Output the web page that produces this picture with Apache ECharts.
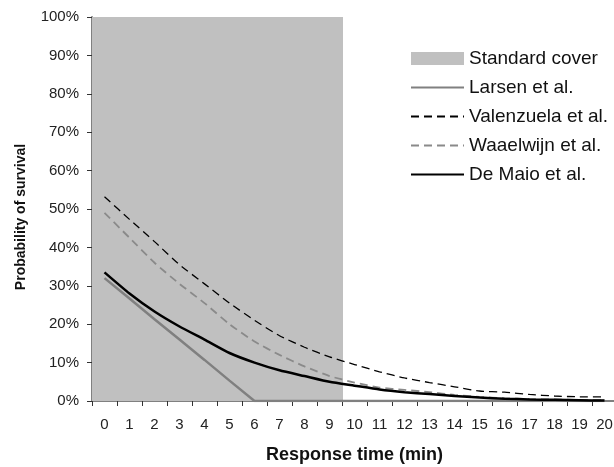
<!DOCTYPE html>
<html>
<head>
<meta charset="utf-8">
<script src="https://cdn.jsdelivr.net/npm/echarts@6/dist/echarts.min.js"></script>
<style>
  html, body { margin: 0; padding: 0; background: #fff; }
  #chart { width: 614px; height: 467px; }
</style>
</head>
<body>
<div id="chart"></div>
<script>
// response time in minutes
const minutes = ["0","1","2","3","4","5","6","7","8","9","10","11","12","13","14","15","16","17","18","19","20"];
// standard cover block (first ten minutes)
const standardCover = [100,100,100,100,100,100,100,100,100,100,null,null,null,null,null,null,null,null,null,null,null];
// probability of survival (%)
const larsen     = [32.0,26.7,21.3,16.0,10.7,5.3,0,0,0,0,0,0,0,0,0,0,0,0,0,0,0];
const valenzuela = [53.2,47.3,41.5,35.5,30.5,25.5,21.0,17.0,14.0,11.5,9.5,7.6,6.0,4.8,3.7,2.6,2.3,1.7,1.3,1.1,1.1];
const waaelwijn  = [49.0,42.5,36.0,30.5,25.5,20.0,15.5,12.0,9.0,6.5,4.8,3.5,2.9,2.3,1.6,1.1,0.7,0.5,0.4,0.3,0.3];
const deMaio     = [33.5,28.0,23.3,19.4,16.0,12.5,10.0,8.0,6.5,5.0,4.0,3.0,2.3,1.8,1.3,0.9,0.6,0.4,0.3,0.2,0.1];

const chart = echarts.init(document.getElementById("chart"));

const font = "Liberation Sans, Arial, sans-serif";
const hideDot = { opacity: 0 };

const option = {
  animation: false,
  textStyle: { fontFamily: font },
  grid: {
    left: 92,
    top: 17,
    bottom: 66,
    width: 525,
    outerBoundsMode: "none",
  },
  legend: {
    orient: "vertical",
    left: 405,
    top: 44,
    itemWidth: 53,
    itemHeight: 13,
    itemGap: 10,
    textStyle: { fontSize: 19, color: "#111", fontFamily: font },
    data: [
      { name: "Standard cover", icon: "rect" },
      { name: "Larsen et al.", itemStyle: hideDot },
      { name: "Valenzuela et al.", itemStyle: hideDot },
      { name: "Waaelwijn et al.", itemStyle: hideDot },
      { name: "De Maio et al.", itemStyle: hideDot },
    ],
  },
  xAxis: {
    type: "category",
    data: minutes,
    boundaryGap: true,
    name: "Response time (min)",
    nameLocation: "middle",
    nameGap: 45,
    nameTextStyle: { fontSize: 18, fontWeight: "bold", color: "#111" },
    axisLine: { lineStyle: { color: "#808080", width: 2 } },
    axisTick: { show: true, length: 5, lineStyle: { color: "#333" } },
    axisLabel: { fontSize: 15, color: "#222", margin: 16, interval: 0 },
  },
  yAxis: {
    type: "value",
    min: 0,
    max: 100,
    interval: 10,
    name: "Probability of survival",
    nameLocation: "middle",
    nameGap: 64,
    nameTextStyle: { fontSize: 14, fontWeight: "bold", color: "#111", padding: [0, 16, 0, 0] },
    axisLine: { show: true, lineStyle: { color: "#808080", width: 2 } },
    axisTick: { show: true, length: 5, lineStyle: { color: "#333" } },
    axisLabel: { fontSize: 15, color: "#222", margin: 13, formatter: "{value}%" },
    splitLine: { show: false },
  },
  series: [
    {
      name: "Standard cover",
      type: "bar",
      data: standardCover,
      barWidth: 27,
      itemStyle: { color: "#c0c0c0" },
      z: 1,
    },
    {
      name: "Larsen et al.",
      type: "line",
      data: larsen,
      symbol: "none",
      lineStyle: { color: "#808080", width: 2.5 },
      itemStyle: { color: "#808080" },
      z: 3,
    },
    {
      name: "Valenzuela et al.",
      type: "line",
      data: valenzuela,
      symbol: "none",
      smooth: 0.2,
      lineStyle: { color: "#000", width: 1.3, type: [8, 5] },
      itemStyle: { color: "#000" },
      z: 3,
    },
    {
      name: "Waaelwijn et al.",
      type: "line",
      data: waaelwijn,
      symbol: "none",
      smooth: 0.2,
      lineStyle: { color: "#8a8a8a", width: 1.8, type: [8, 5] },
      itemStyle: { color: "#8a8a8a" },
      z: 3,
    },
    {
      name: "De Maio et al.",
      type: "line",
      data: deMaio,
      symbol: "none",
      smooth: 0.2,
      lineStyle: { color: "#000", width: 2.5 },
      itemStyle: { color: "#000" },
      z: 4,
    },
  ],
};

chart.setOption(option);
</script>
</body>
</html>
